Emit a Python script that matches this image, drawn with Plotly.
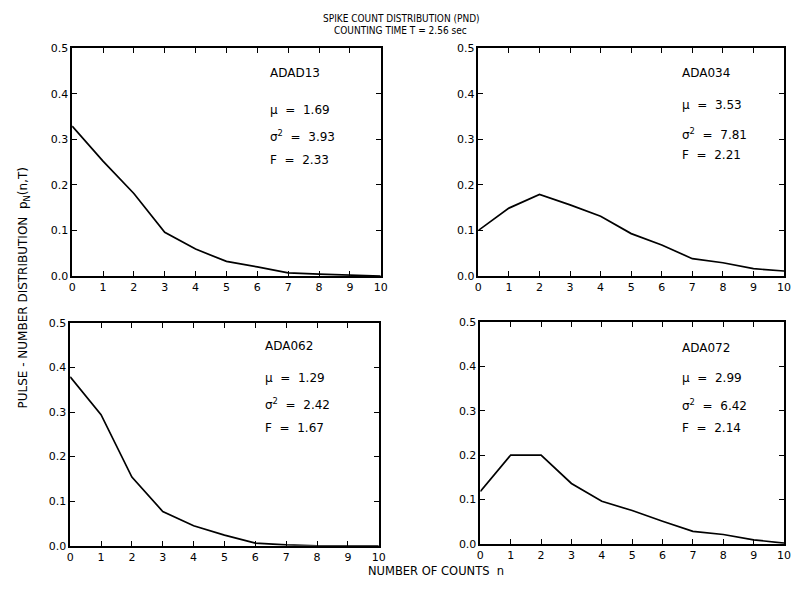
import plotly.graph_objects as go

n_counts = list(range(11))
ada013 = [0.329, 0.252, 0.181, 0.096, 0.059, 0.032, 0.020, 0.007, 0.004, 0.0015, 0.0]
ada034 = [0.100, 0.149, 0.179, 0.156, 0.131, 0.093, 0.068, 0.038, 0.029, 0.016, 0.011]
ada062 = [0.379, 0.294, 0.154, 0.077, 0.045, 0.024, 0.006, 0.002, 0.0, 0.0, 0.0]
ada072 = [0.118, 0.200, 0.200, 0.136, 0.096, 0.075, 0.051, 0.028, 0.021, 0.009, 0.0015]

names = ["ADAD13", "ADA034", "ADA062", "ADA072"]
mus = ["1.69", "3.53", "1.29", "2.99"]
sigmas = ["3.93", "7.81", "2.42", "6.42"]
fanos = ["2.33", "2.21", "1.67", "2.14"]
series = [ada013, ada034, ada062, ada072]

OFF = 8  # page body margin
W, H = 800 - 2 * OFF, 595 - 2 * OFF


def px(x):
    return min(1.0, max(0.0, (x - OFF) / W))


def py(y):
    return min(1.0, max(0.0, 1 - (y - OFF) / H))


# pixel boxes in the page: (left, right, top, bottom)
boxes = [(69, 382, 43, 276), (481, 791, 43, 276), (67, 380, 324, 552), (483, 791, 323, 550)]
# left x of the label block; y centres of name, mu, sigma^2, F
ann_pos = [(268, [68, 106, 133, 157]), (685, [68, 101, 131, 152]),
           (263, [348, 380, 407, 431]), (686, [350, 380, 408, 431])]

FAM = "DejaVu Sans, Liberation Sans, Arial, sans-serif"
NARROW = "Liberation Sans Narrow, Arial Narrow, DejaVu Sans Condensed, sans-serif"
fig = go.Figure()
tfont = dict(family=FAM, size=11, color="black")
layout = dict(width=W, height=H, margin=dict(l=0, r=0, t=0, b=0),
              paper_bgcolor="white", plot_bgcolor="white", showlegend=False,
              font=tfont)
annotations = []
for i, (ys, box) in enumerate(zip(series, boxes)):
    k = "" if i == 0 else str(i + 1)
    fig.add_trace(go.Scatter(x=n_counts, y=ys, mode="lines",
                             line=dict(color="black", width=1.7),
                             xaxis="x" + k, yaxis="y" + k, hoverinfo="skip"))
    l, r, t, b = box
    layout["xaxis" + k] = dict(domain=[px(l), px(r)], anchor="y" + k, range=[0, 10],
                               tickmode="linear", tick0=0, dtick=1, ticks="inside",
                               ticklen=5, tickcolor="black", showline=True,
                               linecolor="black", linewidth=1.5, mirror="ticks",
                               showgrid=False, zeroline=False, tickfont=tfont)
    layout["yaxis" + k] = dict(domain=[py(b), py(t)], anchor="x" + k, range=[0, 0.5],
                               tickmode="linear", tick0=0, dtick=0.1, tickformat=".1f",
                               ticks="inside", ticklen=5, tickcolor="black", showline=True,
                               linecolor="black", linewidth=1.5, mirror="ticks",
                               showgrid=False, zeroline=False, tickfont=tfont)
    ax, ays = ann_pos[i]
    texts = [names[i], "\u03bc  =  " + mus[i], "\u03c3<sup>2</sup>  =  " + sigmas[i],
             "F  =  " + fanos[i]]
    for j, (txt, yy) in enumerate(zip(texts, ays)):
        annotations.append(dict(text=txt, x=px(ax), y=py(yy),
                                xref="paper", yref="paper", xanchor="left", yanchor="middle",
                                showarrow=False, font=dict(size=12, color="black", family=FAM)))

annotations += [
    dict(text="SPIKE COUNT DISTRIBUTION (PND)", x=px(403), y=py(13), xref="paper", yref="paper",
         xanchor="center", yanchor="middle", showarrow=False,
         font=dict(size=10, color="black", family=NARROW)),
    dict(text="COUNTING TIME T = 2.56 sec", x=px(402), y=py(25), xref="paper", yref="paper",
         xanchor="center", yanchor="middle", showarrow=False,
         font=dict(size=10, color="black", family=NARROW)),
    dict(text="PULSE - NUMBER DISTRIBUTION  p<sub>N</sub>(n,T)", x=px(20), y=py(288),
         xref="paper", yref="paper", xanchor="center", yanchor="middle", textangle=-90,
         showarrow=False, font=dict(size=12, color="black", family=FAM)),
    dict(text="NUMBER OF COUNTS  n", x=px(438), y=py(578), xref="paper", yref="paper",
         xanchor="center", yanchor="middle", showarrow=False,
         font=dict(size=11.5, color="black", family=FAM)),
]
layout["annotations"] = annotations
fig.update_layout(**layout)
fig.write_html("out.html")
